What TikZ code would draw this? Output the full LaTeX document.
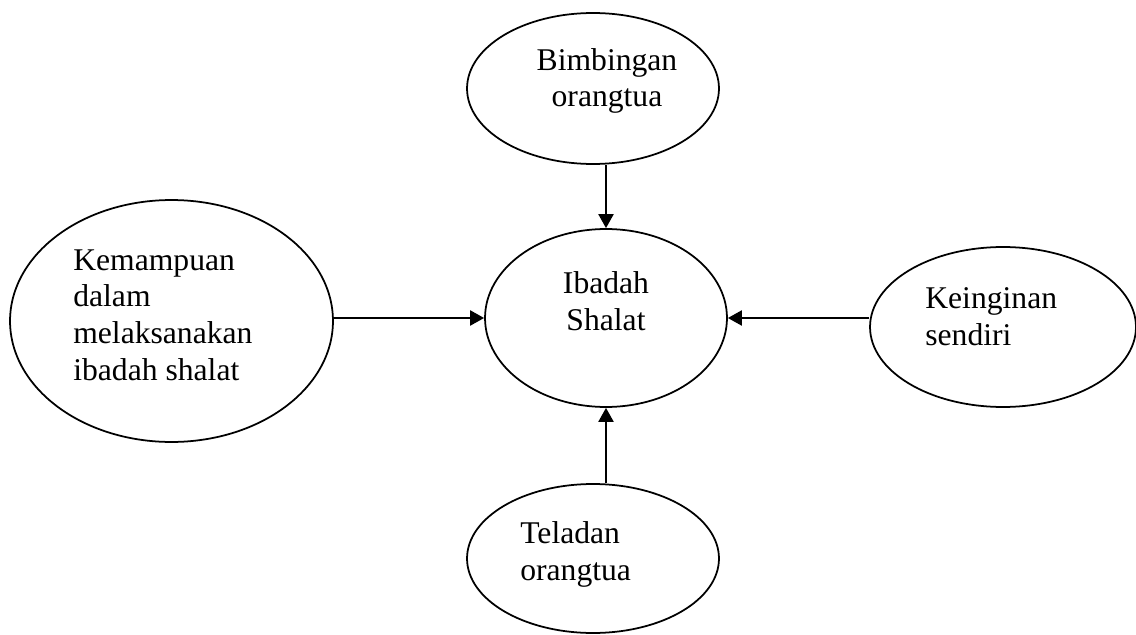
\documentclass[tikz,border=0pt]{standalone}
\usepackage{fontspec}
\setmainfont{Liberation Serif}
\usetikzlibrary{shapes.geometric}
\usetikzlibrary{arrows.meta}

\begin{document}
\begin{tikzpicture}[x=0.02cm, y=-0.02cm,
  lingkaran/.style={draw, ellipse, line width=1pt, inner sep=0pt},
  teks/.style={inner sep=0pt, font=\fontsize{18}{20.8}\selectfont},
  panah/.style={-{Triangle[length=0.28cm, width=0.3cm]}, line width=1.2pt}]
\useasboundingbox (0,0) rectangle (1136,635); % ukuran gambar

%% elips
\node[lingkaran, minimum width=5.04cm, minimum height=3.02cm] (bimbingan) at (593,88.5) {};
\node[lingkaran, minimum width=4.84cm, minimum height=3.56cm] (ibadah) at (606,318) {};
\node[lingkaran, minimum width=6.46cm, minimum height=4.84cm] (kemampuan) at (171.5,321) {};
\node[lingkaran, minimum width=5.32cm, minimum height=3.2cm] (keinginan) at (1003,327) {};
\node[lingkaran, minimum width=5.04cm, minimum height=2.98cm] (teladan) at (593,558.5) {};

%% teks (base = garis dasar baris terakhir)
\node[teks, align=center, anchor=base] (bimbingan-teks) at (607,107) {Bimbingan\\orangtua};
\node[teks, align=center, anchor=base] (ibadah-teks) at (606,330) {Ibadah\\Shalat};
\node[teks, align=left, anchor=base west] (kemampuan-teks) at (73,380) {Kemampuan\\dalam\\melaksanakan\\ibadah shalat};
\node[teks, align=left, anchor=base west] (keinginan-teks) at (925,345) {Keinginan\\sendiri};
\node[teks, align=left, anchor=base west] (teladan-teks) at (520,580) {Teladan\\orangtua};

%% panah
\draw[panah] (bimbingan.south -| ibadah) -- (ibadah.north);
\draw[panah] (teladan.north -| ibadah) -- (ibadah.south);
\draw[panah] (kemampuan.east |- ibadah) -- (ibadah.west);
\draw[panah] (keinginan.west |- ibadah) -- (ibadah.east);
\end{tikzpicture}
\end{document}
